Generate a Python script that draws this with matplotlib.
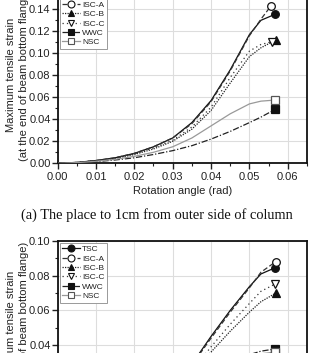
import numpy as np
import matplotlib
matplotlib.use("Agg")
import matplotlib.pyplot as plt
from matplotlib.lines import Line2D
from matplotlib.legend_handler import HandlerLine2D
from matplotlib.ticker import MultipleLocator, FormatStrFormatter

plt.rcParams['font.family'] = ['Liberation Sans', 'DejaVu Sans']

series = ["TSC", "ISC-A", "ISC-B", "ISC-C", "WWC", "NSC"]

# rotation angle (rad) -- common grid, last value differs per series
rot_base = [0.0, 0.005, 0.01, 0.015, 0.02, 0.025, 0.03, 0.035, 0.04, 0.045, 0.05, 0.053]
rot_end_a = {"TSC": 0.0567, "ISC-A": 0.0556, "ISC-B": 0.0568, "ISC-C": 0.0558, "WWC": 0.0567, "NSC": 0.0567}
rot_end_b = {"TSC": 0.0567, "ISC-A": 0.0568, "ISC-B": 0.0568, "ISC-C": 0.0567, "WWC": 0.0567, "NSC": 0.0567}

# (a) The place to 1cm from outer side of column
strain_a = {
    "TSC":   [0, 0.0008, 0.0025, 0.005, 0.009, 0.015, 0.023, 0.037, 0.057, 0.085, 0.117, 0.130, 0.1355],
    "ISC-A": [0, 0.0008, 0.0025, 0.005, 0.009, 0.015, 0.023, 0.036, 0.056, 0.084, 0.116, 0.131, 0.143],
    "ISC-B": [0, 0.0007, 0.0022, 0.0045, 0.008, 0.013, 0.020, 0.031, 0.048, 0.073, 0.097, 0.105, 0.112],
    "ISC-C": [0, 0.0007, 0.0023, 0.0047, 0.0085, 0.014, 0.021, 0.033, 0.051, 0.078, 0.102, 0.108, 0.1105],
    "WWC":   [0, 0.0005, 0.0015, 0.003, 0.005, 0.008, 0.0115, 0.016, 0.022, 0.029, 0.037, 0.042, 0.049],
    "NSC":   [0, 0.0006, 0.0018, 0.0036, 0.0063, 0.010, 0.015, 0.023, 0.034, 0.045, 0.054, 0.0565, 0.0575],
}

# (b) second location
strain_b = {
    "TSC":   [0, 0.0005, 0.0015, 0.003, 0.0055, 0.009, 0.016, 0.029, 0.045, 0.060, 0.0737, 0.081, 0.0846],
    "ISC-A": [0, 0.0005, 0.0015, 0.003, 0.0055, 0.009, 0.0158, 0.0285, 0.044, 0.059, 0.073, 0.082, 0.088],
    "ISC-B": [0, 0.0004, 0.0013, 0.0027, 0.005, 0.008, 0.014, 0.023, 0.036, 0.048, 0.059, 0.065, 0.0699],
    "ISC-C": [0, 0.0004, 0.0014, 0.0028, 0.0052, 0.0085, 0.015, 0.025, 0.039, 0.052, 0.064, 0.071, 0.0752],
    "WWC":   [0, 0.0004, 0.0012, 0.0025, 0.0045, 0.007, 0.010, 0.015, 0.021, 0.029, 0.0345, 0.0365, 0.0378],
    "NSC":   [0, 0.0004, 0.0013, 0.0027, 0.0048, 0.0075, 0.011, 0.015, 0.020, 0.027, 0.033, 0.035, 0.036],
}

x_ticks = [0.00, 0.01, 0.02, 0.03, 0.04, 0.05, 0.06]
caption_a = "(a) The place to 1cm from outer side of column"

styles = {
    "TSC":   dict(color="#111111", ls="-", marker="o", mfc="#111111"),
    "ISC-A": dict(color="#333333", ls=(0, (4, 2)), marker="o", mfc="white"),
    "ISC-B": dict(color="#222222", ls=(0, (1, 1)), marker="^", mfc="#111111"),
    "ISC-C": dict(color="#333333", ls=(0, (1, 2.5)), marker="v", mfc="white"),
    "WWC":   dict(color="#222222", ls=(0, (5, 1.5, 1, 1.5)), marker="s", mfc="#111111"),
    "NSC":   dict(color="#999999", ls="-", marker="s", mfc="white"),
}
medge = {"NSC": "#555555"}


class RightMarkerHandler(HandlerLine2D):
    def get_xdata(self, legend, xdescent, ydescent, width, height, fontsize):
        xdata = np.array([-xdescent, -xdescent + width])
        xm = np.array([-xdescent + width * 0.85])
        return xdata, xm


fig = plt.figure(figsize=(3.10, 3.53), dpi=100)
W, H = 310.0, 353.0
left = 57.5 / W
width = (307.0 - 57.5) / W
ax1 = fig.add_axes([left, 1 - 163.3 / H, width, 176.0 / H])
ax2 = fig.add_axes([left, 1 - 241.0 / H - 173.5 / H, width, 173.5 / H])


def draw(ax, data, ends, ymax, ystep):
    for s in series:
        st = styles[s]
        xs = rot_base + [ends[s]]
        ys = data[s]
        ax.plot(xs, ys, color=st["color"], ls=st["ls"], lw=0.9, zorder=3)
        ax.plot(xs[-1:], ys[-1:], ls="none", marker=st["marker"], ms=5.5,
                mfc=st["mfc"], mec=medge.get(s, "#111111"), mew=0.9, zorder=4)
    ax.set_xlim(0, 0.065)
    ax.set_ylim(0, ymax)
    ax.set_xticks(x_ticks)
    ax.xaxis.set_minor_locator(MultipleLocator(0.005))
    ax.yaxis.set_major_locator(MultipleLocator(ystep))
    ax.yaxis.set_minor_locator(MultipleLocator(ystep / 2))
    ax.xaxis.set_major_formatter(FormatStrFormatter("%.2f"))
    ax.yaxis.set_major_formatter(FormatStrFormatter("%.2f"))
    ax.grid(True, which="major", color="#dddddd", lw=0.8, zorder=0)
    ax.tick_params(which="major", direction="out", length=4, width=1, labelsize=8, pad=1, colors="#222222")
    ax.tick_params(axis="x", which="major", pad=2)
    ax.tick_params(which="minor", direction="out", length=2, width=0.8, colors="#222222")
    for sp in ax.spines.values():
        sp.set_linewidth(1.3)
        sp.set_color("#111111")
    ax.set_ylabel("Maximum tensile strain\n(at the end of beam bottom flange)", fontsize=8,
                  linespacing=1.4, color="#222222")
    ax.yaxis.set_label_coords(-0.113, 0.5)
    handles = [Line2D([], [], color=styles[s]["color"], ls=styles[s]["ls"], lw=0.9,
                      marker=styles[s]["marker"], ms=5, mfc=styles[s]["mfc"],
                      mec=medge.get(s, "#111111"), mew=0.8) for s in series]
    leg = ax.legend(handles, series, loc="upper left", fontsize=6, frameon=True, fancybox=False,
                    edgecolor="#999999", framealpha=1, handlelength=2.2, handletextpad=0.2,
                    labelspacing=0.18, borderpad=0.3, borderaxespad=0.25,
                    handler_map={Line2D: RightMarkerHandler()})
    leg.get_frame().set_linewidth(0.7)
    for t in leg.get_texts():
        t.set_color("#222222")


draw(ax1, strain_a, rot_end_a, 0.16, 0.02)
draw(ax2, strain_b, rot_end_b, 0.10, 0.02)
ax1.set_xlabel("Rotation angle (rad)", fontsize=8, labelpad=3, color="#222222")

fig.text(157 / W, 1 - 215 / H, caption_a, ha="center", va="center",
         fontsize=10.4, family=["Liberation Serif", "DejaVu Serif"], color="#111111")

fig.savefig("out.png", dpi=100)
